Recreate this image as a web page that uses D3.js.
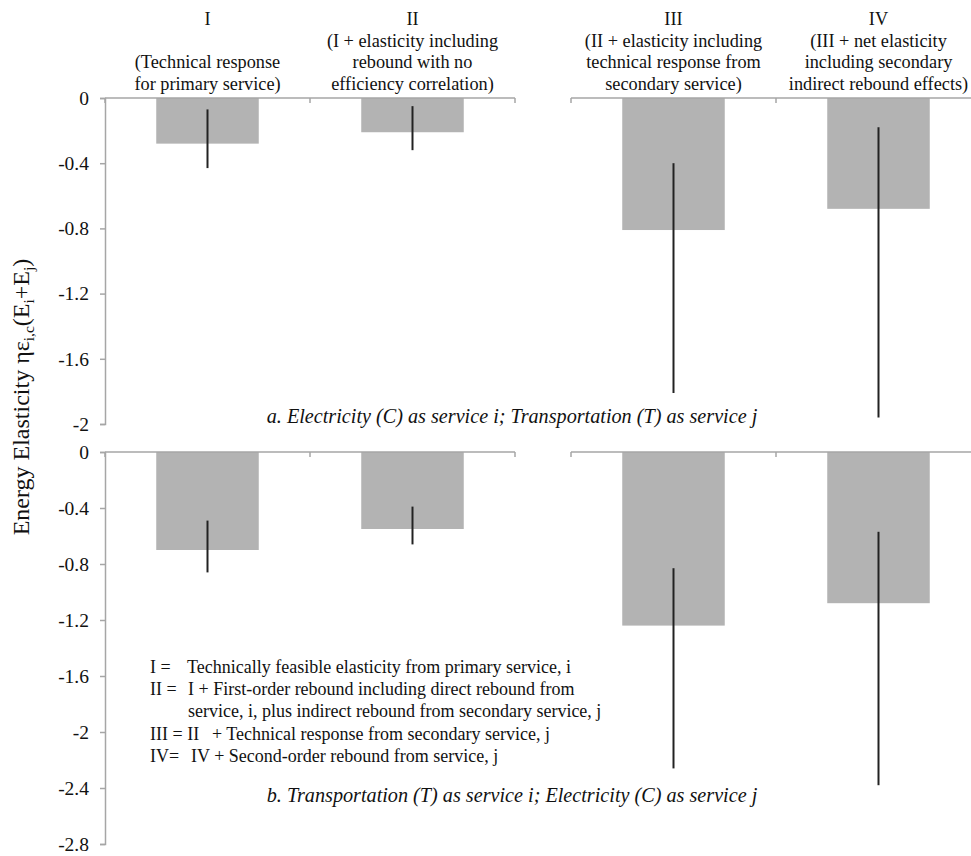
<!DOCTYPE html>
<html>
<head>
<meta charset="utf-8">
<script src="https://cdn.jsdelivr.net/npm/d3@7"></script>
<style>
  html, body { margin: 0; padding: 0; background: #fff; }
  svg { display: block; }
</style>
</head>
<body>
<svg id="chart" width="971" height="856" font-family="Liberation Serif, Times New Roman, Times, serif"></svg>
<script>
// Scenario categories (left pair and right pair are drawn as two separate axes)
const leftCats = ["I", "II"];
const rightCats = ["III", "IV"];

// Column headings, one array of lines per category
const headerLines = {
  "I":   ["I", "", "(Technical response", "for primary service)"],
  "II":  ["II", "(I + elasticity including", "rebound with no", "efficiency correlation)"],
  "III": ["III", "(II + elasticity including", "technical response from", "secondary service)"],
  "IV":  ["IV", "(III + net elasticity", "including secondary", "indirect rebound effects)"]
};

// Panel a: Electricity (C) as service i; Transportation (T) as service j
const panelAValues = [-0.28, -0.21, -0.81, -0.68];
const panelALow    = [-0.43, -0.32, -1.81, -1.96];
const panelAHigh   = [-0.07, -0.05, -0.40, -0.18];

// Panel b: Transportation (T) as service i; Electricity (C) as service j
const panelBValues = [-0.70, -0.55, -1.24, -1.08];
const panelBLow    = [-0.86, -0.66, -2.26, -2.38];
const panelBHigh   = [-0.49, -0.39, -0.83, -0.57];

const panelATicks = [0, -0.4, -0.8, -1.2, -1.6, -2];
const panelBTicks = [0, -0.4, -0.8, -1.2, -1.6, -2, -2.4, -2.8];

const legendLines = [
  ["I =", "Technically feasible elasticity from primary service, i"],
  ["II =", "I + First-order rebound including direct rebound from"],
  ["", "service, i, plus indirect rebound from secondary service, j"],
  ["III = II", "+ Technical response from secondary service, j"],
  ["IV=", "IV + Second-order rebound from service, j"]
];

const FONT = "Liberation Serif, Times New Roman, Times, serif";
const svg = d3.select("#chart");
const axisColor = "#a6a6a6";
const barColor = "#b3b3b3";
const textColor = "#111";

const xLeft = d3.scaleBand().domain(leftCats).range([105, 515]);
const xRight = d3.scaleBand().domain(rightCats).range([571, 981]);
const allCats = leftCats.concat(rightCats);
const xOf = c => leftCats.includes(c) ? xLeft(c) : xRight(c);
const bw = xLeft.bandwidth();
const barW = bw * 0.5;

// Column headings
const head = svg.append("g").attr("font-size", 18.3).attr("fill", textColor);
allCats.forEach(c => {
  const cx = xOf(c) + bw / 2;
  headerLines[c].forEach((line, i) => {
    if (!line) return;
    head.append("text")
      .attr("x", cx).attr("y", 25 + i * 21.5)
      .attr("text-anchor", "middle")
      .text(line);
  });
});

function drawPanel(top, bottom, domainMin, ticks, values, low, high, caption, captionY) {
  const y = d3.scaleLinear().domain([domainMin, 0]).range([bottom, top]);
  const g = svg.append("g");

  // bars
  g.selectAll("rect.bar").data(allCats).join("rect")
    .attr("class", "bar")
    .attr("x", c => xOf(c) + (bw - barW) / 2)
    .attr("width", barW)
    .attr("y", y(0))
    .attr("height", (c, i) => y(values[i]) - y(0))
    .attr("fill", barColor);

  // error ranges
  g.selectAll("line.err").data(allCats).join("line")
    .attr("class", "err")
    .attr("x1", c => xOf(c) + bw / 2)
    .attr("x2", c => xOf(c) + bw / 2)
    .attr("y1", (c, i) => y(high[i]))
    .attr("y2", (c, i) => y(low[i]))
    .attr("stroke", "#222")
    .attr("stroke-width", 2);

  // y axis
  const yAxis = d3.axisLeft(y).tickValues(ticks).tickSize(5).tickPadding(11)
    .tickFormat(d => String(d));
  const ya = g.append("g").attr("transform", "translate(105,0)").call(yAxis)
    .attr("font-family", FONT).attr("font-size", 19.5);
  ya.select(".domain").attr("stroke", axisColor).attr("stroke-width", 1.5);
  ya.selectAll(".tick line").attr("stroke", axisColor).attr("stroke-width", 1.5);
  ya.selectAll(".tick text").attr("fill", textColor);

  // zero-line category axes (two segments)
  [[xLeft, 105, 515], [xRight, 571, 981]].forEach(([sc, x0, x1]) => {
    const ax = g.append("g").attr("transform", `translate(0,${y(0)})`);
    ax.append("line").attr("x1", x0).attr("x2", x1).attr("y1", 0).attr("y2", 0)
      .attr("stroke", axisColor).attr("stroke-width", 1.5);
    const bounds = sc.domain().map(c => sc(c)).concat([x1]);
    ax.selectAll("line.tk").data(bounds).join("line")
      .attr("class", "tk")
      .attr("x1", d => d).attr("x2", d => d)
      .attr("y1", 0).attr("y2", 5)
      .attr("stroke", axisColor).attr("stroke-width", 1.5);
  });

  // panel caption
  g.append("text")
    .attr("x", 512).attr("y", captionY)
    .attr("text-anchor", "middle")
    .attr("font-size", 20.2).attr("font-style", "italic")
    .attr("fill", textColor)
    .text(caption);
  return y;
}

drawPanel(98, 424, -2, panelATicks, panelAValues, panelALow, panelAHigh,
  "a. Electricity (C) as service i; Transportation (T) as service j", 423);
drawPanel(452, 844, -2.8, panelBTicks, panelBValues, panelBLow, panelBHigh,
  "b. Transportation (T) as service i; Electricity (C) as service j", 802);

// legend of scenario definitions
const leg = svg.append("g").attr("font-size", 18).attr("fill", textColor);
const legY = [673, 695, 717, 740, 762];
const legX = [187, 188, 188, 212, 191];
legendLines.forEach((l, i) => {
  if (l[0]) leg.append("text").attr("x", 150).attr("y", legY[i]).text(l[0]);
  leg.append("text").attr("x", legX[i]).attr("y", legY[i]).text(l[1]);
});

// y axis title with subscripts
const title = svg.append("text")
  .attr("transform", "translate(29,397) rotate(-90)")
  .attr("text-anchor", "middle")
  .attr("font-size", 24)
  .attr("fill", textColor);
title.append("tspan").text("Energy Elasticity ηε");
title.append("tspan").attr("font-size", 15.5).attr("dy", 5).text("i,c");
title.append("tspan").attr("dy", -5).text("(E");
title.append("tspan").attr("font-size", 15.5).attr("dy", 5).text("i");
title.append("tspan").attr("dy", -5).text("+E");
title.append("tspan").attr("font-size", 15.5).attr("dy", 5).text("j");
title.append("tspan").attr("dy", -5).text(")");
</script>
</body>
</html>
